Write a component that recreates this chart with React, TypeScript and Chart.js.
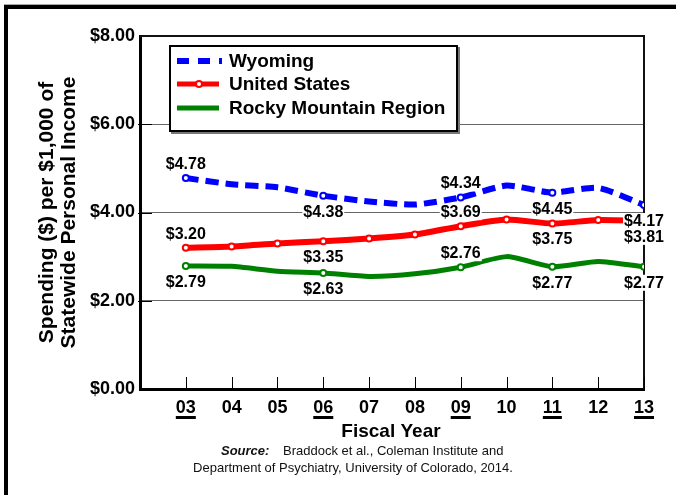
import { useEffect, useRef } from 'react';
import { Chart, registerables } from 'chart.js';

Chart.register(...registerables);

// ---- data ----
const fiscalYears = [3, 4, 5, 6, 7, 8, 9, 10, 11, 12, 13];
const wyoming = [4.78, 4.64, 4.57, 4.38, 4.25, 4.18, 4.34, 4.61, 4.45, 4.56, 4.17];
const unitedStates = [3.2, 3.23, 3.3, 3.35, 3.41, 3.5, 3.69, 3.84, 3.75, 3.83, 3.81];
const rockyMountain = [2.79, 2.78, 2.67, 2.63, 2.55, 2.61, 2.76, 3.0, 2.77, 2.89, 2.77];
const seriesNames = ['Wyoming', 'United States', 'Rocky Mountain Region'];
const yTickValues = [0, 2, 4, 6, 8];
const highlightedYears = [3, 6, 9, 11, 13];
const yTitleLines = ['Spending ($) per $1,000 of', 'Statewide Personal Income'];
const xTitle = 'Fiscal Year';
const sourceLabel = 'Source:';
const sourceLine1 = 'Braddock et al., Coleman Institute and';
const sourceLine2 = 'Department of Psychiatry, University of Colorado, 2014.';

// ---- styles ----
const FONT = '"Liberation Sans", Arial, Helvetica, sans-serif';
const colors = ['#0000ff', '#ff0000', '#008000'];
// value label placement per series for highlighted years (style config)
const labelSide = [
  ['above', 'below', 'above', 'below', 'below'],
  ['above', 'below', 'above', 'below', 'below'],
  ['below', 'below', 'above', 'below', 'below'],
];

const fmtYear = (v: number) => (v < 3 ? '' : String(v).padStart(2, '0'));
const fmtMoney = (v: number) => '$' + v.toFixed(2);

const decorPlugin = {
  id: 'decor',
  beforeDatasetsDraw(chart: any) {
    const { ctx, chartArea: a, scales } = chart;
    ctx.save();
    ctx.strokeStyle = '#111';
    ctx.lineWidth = 2;
    ctx.beginPath();
    ctx.moveTo(a.left, a.top);
    ctx.lineTo(a.right, a.top);
    ctx.lineTo(a.right, a.bottom);
    ctx.stroke();
    ctx.strokeStyle = '#000';
    ctx.lineWidth = 1;
    ctx.beginPath();
    yTickValues.forEach((v) => {
      if (v === 0 || v === 8) return;
      const y = Math.round(scales.y.getPixelForValue(v)) + 0.5;
      ctx.moveTo(a.left - 2, y);
      ctx.lineTo(a.left + 12, y);
    });
    fiscalYears.forEach((yr) => {
      const x = Math.round(scales.x.getPixelForValue(yr)) + 0.5;
      ctx.moveTo(x, a.bottom);
      ctx.lineTo(x, a.bottom - 12);
    });
    ctx.stroke();
    ctx.restore();
  },
  afterDatasetsDraw(chart: any) {
    const { ctx, scales } = chart;
    ctx.save();
    ctx.font = `bold 16px ${FONT}`;
    ctx.textAlign = 'center';
    ctx.textBaseline = 'middle';
    chart.data.datasets.forEach((ds: any, di: number) => {
      highlightedYears.forEach((yr, k) => {
        const pt = ds.data.find((p: any) => p.x === yr);
        if (!pt) return;
        const px = scales.x.getPixelForValue(pt.x);
        const py = scales.y.getPixelForValue(pt.y);
        const cy = labelSide[di][k] === 'above' ? py - 14 : py + 16;
        const text = fmtMoney(pt.y);
        const w = ctx.measureText(text).width;
        ctx.fillStyle = '#fff';
        ctx.fillRect(px - w / 2 - 1, cy - 8, w + 2, 16);
        ctx.fillStyle = '#000';
        ctx.fillText(text, px, cy + 0.5);
      });
    });
    ctx.restore();
  },
  afterDraw(chart: any) {
    const { ctx, chartArea: a, scales } = chart;
    ctx.save();
    // outer frame
    ctx.fillStyle = '#aaa';
    ctx.fillRect(4, 4, 672, 1);
    ctx.fillStyle = '#000';
    ctx.fillRect(4, 5, 4, 490);
    ctx.fillRect(4, 5, 672, 4);

    // underline highlighted year labels
    ctx.font = `bold 18px ${FONT}`;
    highlightedYears.forEach((yr) => {
      const x = scales.x.getPixelForValue(yr);
      const w = ctx.measureText(fmtYear(yr)).width;
      ctx.fillRect(x - w / 2, 416, w, 3);
    });

    // y title
    ctx.font = `bold 21px ${FONT}`;
    ctx.textAlign = 'center';
    ctx.textBaseline = 'alphabetic';
    const cy = (a.top + a.bottom) / 2;
    [53, 75].forEach((bx, i) => {
      ctx.save();
      ctx.translate(bx, cy);
      ctx.rotate(-Math.PI / 2);
      ctx.fillText(yTitleLines[i], 0, 0);
      ctx.restore();
    });

    // x title
    ctx.font = `bold 19px ${FONT}`;
    ctx.textBaseline = 'middle';
    ctx.fillText(xTitle, (a.left + a.right) / 2 - 1, 432);

    // source
    ctx.fillStyle = '#111';
    ctx.textAlign = 'left';
    ctx.font = `italic bold 13px ${FONT}`;
    ctx.fillText(sourceLabel, 221, 451);
    ctx.font = `13px ${FONT}`;
    ctx.fillText(sourceLine1, 283, 451);
    ctx.textAlign = 'center';
    ctx.fillText(sourceLine2, 353, 468);

    // legend
    const lx = 169, ly = 45, lw = 289, lh = 87;
    ctx.fillStyle = '#777';
    ctx.fillRect(lx + 2, ly + 2, lw, lh);
    ctx.fillStyle = '#fff';
    ctx.fillRect(lx, ly, lw, lh);
    ctx.strokeStyle = '#000';
    ctx.lineWidth = 2;
    ctx.strokeRect(lx + 1, ly + 1, lw - 2, lh - 2);
    const rows = [61, 84, 108];
    chart.data.datasets.forEach((ds: any, i: number) => {
      const y = rows[i];
      ctx.save();
      ctx.strokeStyle = colors[i];
      ctx.lineWidth = i === 0 ? 6 : 5;
      ctx.lineCap = 'butt';
      if (i === 0) ctx.setLineDash([12, 9]);
      ctx.beginPath();
      ctx.moveTo(177, y);
      ctx.lineTo(i === 0 ? 222 : 219, y);
      ctx.stroke();
      ctx.restore();
      if (i === 1) {
        ctx.beginPath();
        ctx.arc(199, y, 3, 0, Math.PI * 2);
        ctx.fillStyle = '#fff';
        ctx.fill();
        ctx.lineWidth = 2;
        ctx.strokeStyle = colors[1];
        ctx.stroke();
      }
      ctx.fillStyle = '#000';
      ctx.font = `bold 19px ${FONT}`;
      ctx.textAlign = 'left';
      ctx.textBaseline = 'middle';
      ctx.fillText(ds.label, 229, y + 1);
    });
    ctx.restore();
  },
};

export default function App() {
  const canvasRef = useRef<HTMLCanvasElement>(null);

  useEffect(() => {
    if (!canvasRef.current) return;
    const toPoints = (vals: number[]) => fiscalYears.map((x, i) => ({ x, y: vals[i] }));
    const highlightRadius = fiscalYears.map((yr) => (highlightedYears.includes(yr) ? 3 : 0));
    const chart = new Chart(canvasRef.current, {
      type: 'line',
      data: {
        datasets: [
          {
            label: seriesNames[0],
            data: toPoints(wyoming),
            borderColor: colors[0],
            borderWidth: 6,
            borderDash: [13, 7],
            borderCapStyle: 'butt',
            pointRadius: highlightRadius,
            pointHoverRadius: highlightRadius,
            pointBackgroundColor: '#fff',
            pointBorderColor: colors[0],
            pointBorderWidth: 2,
            tension: 0.2,
          },
          {
            label: seriesNames[1],
            data: toPoints(unitedStates),
            borderColor: colors[1],
            borderWidth: 6,
            pointRadius: 3,
            pointHoverRadius: 3,
            pointBackgroundColor: '#fff',
            pointBorderColor: colors[1],
            pointBorderWidth: 2,
            tension: 0.2,
          },
          {
            label: seriesNames[2],
            data: toPoints(rockyMountain),
            borderColor: colors[2],
            borderWidth: 5,
            pointRadius: highlightRadius,
            pointHoverRadius: highlightRadius,
            pointBackgroundColor: '#fff',
            pointBorderColor: colors[2],
            pointBorderWidth: 2,
            tension: 0.2,
          },
        ],
      },
      options: {
        responsive: false,
        animation: false,
        devicePixelRatio: 1,
        layout: { padding: { left: 0, top: 36, right: 32, bottom: 0 } },
        plugins: { legend: { display: false }, tooltip: { enabled: false }, title: { display: false } },
        scales: {
          x: {
            type: 'linear',
            min: 2,
            max: 13,
            afterFit: (s: any) => {
              s.height = 106;
            },
            grid: { display: false, drawTicks: false },
            border: { display: true, width: 3, color: '#000' },
            ticks: {
              stepSize: 1,
              autoSkip: false,
              maxRotation: 0,
              padding: 8,
              color: '#000',
              font: { family: FONT, size: 18, weight: 'bold' },
              callback: (v: any) => fmtYear(Number(v)),
            },
          },
          y: {
            type: 'linear',
            min: 0,
            max: 8,
            afterFit: (s: any) => {
              s.width = 140;
            },
            grid: {
              drawTicks: false,
              lineWidth: 1,
              color: (c: any) => (c.tick && [2, 4, 6].includes(c.tick.value) ? '#666' : 'rgba(0,0,0,0)'),
            },
            border: { display: true, width: 3, color: '#000' },
            ticks: {
              stepSize: 2,
              padding: 5,
              color: '#000',
              font: { family: FONT, size: 18, weight: 'bold' },
              callback: (v: any) => fmtMoney(Number(v)),
            },
          },
        },
      },
      plugins: [decorPlugin],
    } as any);
    return () => chart.destroy();
  }, []);

  return (
    <div style={{ position: 'absolute', left: 0, top: 0, width: 676, height: 495, background: '#fff' }}>
      <canvas ref={canvasRef} width={676} height={495} style={{ display: 'block' }} />
    </div>
  );
}
